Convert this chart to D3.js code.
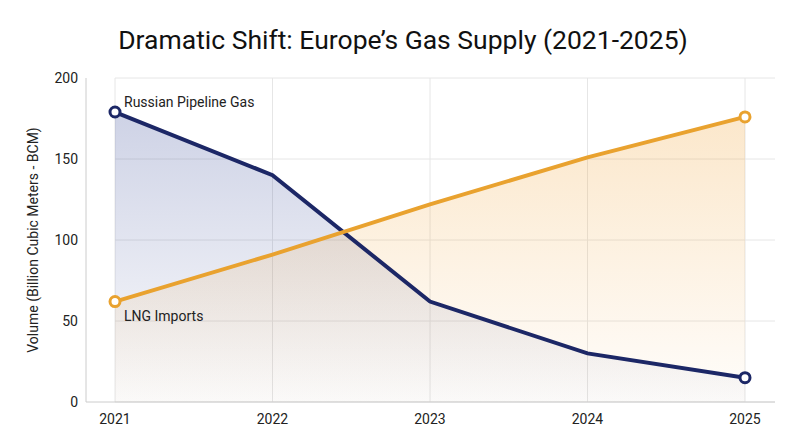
<!DOCTYPE html><html><head><script src="https://cdn.jsdelivr.net/npm/d3@7"></script>
<style>body{margin:0;background:#fff;font-family:Roboto,"Noto Sans",sans-serif}</style></head><body><svg id="c" width="800" height="447"></svg>
<script>
const years=[2021,2022,2023,2024,2025];
const russian=[179,140,62,30,15];
const lng=[62,91,122,151,176];
const yTicks=[0,50,100,150,200];
const svg=d3.select("#c");
const x=d3.scalePoint().domain(years).range([115,745]);
const y=d3.scaleLinear().domain([0,200]).range([402,78]);
const defs=svg.append("defs");
function grad(id,c){const g=defs.append("linearGradient").attr("id",id).attr("x1",0).attr("x2",0).attr("y1",0).attr("y2",1);
g.append("stop").attr("offset","0%").attr("stop-color",c).attr("stop-opacity",0.25);
g.append("stop").attr("offset","100%").attr("stop-color",c).attr("stop-opacity",0.02);}
grad("gr","#3a4c99");grad("gl","#f0a030");
svg.append("g").selectAll("line").data(yTicks).join("line").attr("x1",115).attr("x2",775).attr("y1",d=>y(d)).attr("y2",d=>y(d)).attr("stroke","#e6e6e6");
svg.append("g").selectAll("line").data(years).join("line").attr("x1",d=>x(d)).attr("x2",d=>x(d)).attr("y1",78).attr("y2",402).attr("stroke","#e6e6e6");
svg.append("line").attr("x1",86).attr("x2",86).attr("y1",78).attr("y2",402).attr("stroke","#ccc");
svg.append("line").attr("x1",86).attr("x2",775).attr("y1",402).attr("y2",402).attr("stroke","#ccc");
const series=[{v:russian,c:"#1c2766",g:"gr"},{v:lng,c:"#e9a22f",g:"gl"}];
series.forEach(s=>{
 const pts=years.map((yr,i)=>[yr,s.v[i]]);
 svg.append("path").datum(pts).attr("fill",`url(#${s.g})`).attr("d",d3.area().x(d=>x(d[0])).y0(y(0)).y1(d=>y(d[1])));
});
series.forEach(s=>{
 const pts=years.map((yr,i)=>[yr,s.v[i]]);
 svg.append("path").datum(pts).attr("fill","none").attr("stroke",s.c).attr("stroke-width",4).attr("d",d3.line().x(d=>x(d[0])).y(d=>y(d[1])));
 [pts[0],pts[4]].forEach(p=>svg.append("circle").attr("cx",x(p[0])).attr("cy",y(p[1])).attr("r",5).attr("fill","#fff").attr("stroke",s.c).attr("stroke-width",3));
});
svg.append("g").selectAll("text").data(yTicks).join("text").attr("x",78).attr("y",d=>y(d)+5).attr("text-anchor","end").attr("font-size",14).attr("fill","#222").text(d=>d);
svg.append("g").selectAll("text").data(years).join("text").attr("x",d=>x(d)).attr("y",424).attr("text-anchor","middle").attr("font-size",14).attr("fill","#222").text(d=>d);
svg.append("text").attr("transform","translate(38,240) rotate(-90)").attr("text-anchor","middle").attr("font-size",14).attr("fill","#222").text("Volume (Billion Cubic Meters - BCM)");
svg.append("text").attr("x",403).attr("y",49).attr("text-anchor","middle").attr("font-size",26.5).attr("fill","#111").text("Dramatic Shift: Europe’s Gas Supply (2021-2025)");
svg.append("text").attr("x",124).attr("y",107).attr("font-size",14).attr("fill","#222").text("Russian Pipeline Gas");
svg.append("text").attr("x",124).attr("y",321).attr("font-size",14).attr("fill","#222").text("LNG Imports");
</script></body></html>
